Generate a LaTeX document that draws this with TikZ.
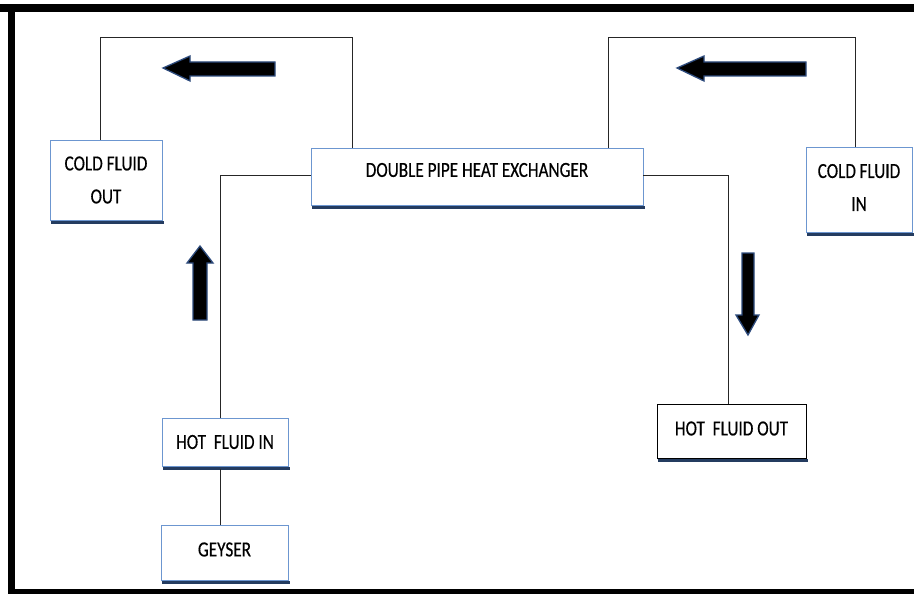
\documentclass[tikz,border=0pt]{standalone}
\usepackage{fontspec}
\newfontfamily\boxfont[FakeStretch=0.8,FakeBold=0.4]{Carlito}
\definecolor{boxblue}{RGB}{108,150,208}
\definecolor{shadownavy}{RGB}{36,60,96}
\definecolor{arrowedge}{RGB}{45,75,125}
\tikzset{
  box/.style={draw=boxblue, line width=0.9pt, fill=white, rectangle, inner sep=0pt},
  blackbox/.style={box, draw=black},
  txt/.style={font=\boxfont\fontsize{21.5}{33}\selectfont, align=center, inner sep=0pt, text=black},
  pipe/.style={draw=black!85, line width=0.9pt},
  shadowline/.style={draw=shadownavy, line width=3.2pt},
  fatarrow/.style={fill=black, draw=arrowedge, line width=1.3pt, line join=miter},
}
\begin{document}
\begin{tikzpicture}[x=1pt,y=-1pt]
\useasboundingbox (0,0) rectangle (914,594);
% frame
\fill[black] (0,4) rectangle (914,12);
\fill[black] (8,4) rectangle (15,594);
\fill[black] (8,589) rectangle (914,594);

% coordinates for pipe corners
\coordinate (tl) at (352,37);
\coordinate (tr) at (608,37);

% boxes
\node[box, minimum width=112, minimum height=80] (cout) at (106,180) {};
\node[box, minimum width=332, minimum height=57] (dphe) at (477,176.5) {};
\node[box, minimum width=106, minimum height=85] (cin) at (859,189.5) {};
\node[box, minimum width=126, minimum height=48] (hin) at (225,442) {};
\node[box, minimum width=127, minimum height=55] (gey) at (224.5,552.5) {};
\node[blackbox, minimum width=149, minimum height=54] (hout) at (731.5,431) {};

% shadows
\foreach \n in {cout,dphe,cin,hin,gey,hout}{
  \draw[shadowline] ([xshift=1pt,yshift=-2.2pt]\n.south west) -- ([xshift=2pt,yshift=-2.2pt]\n.south east);
}

% texts
\node[txt] (tcout) at (cout.center) {COLD FLUID\\OUT};
\node[txt] (tdphe) at ([yshift=6.5pt]dphe.center) {DOUBLE PIPE HEAT EXCHANGER};
\node[txt] (tcin) at ([yshift=2pt]cin.center) {COLD\,FLUID\\IN};
\node[txt] (thin) at (hin.center) {HOT\ \ FLUID IN};
\node[txt] (tgey) at ([yshift=3pt]gey.center) {GEYSER};
\node[txt] (thout) at ([yshift=2.5pt]hout.center) {HOT\ \ FLUID OUT};

% pipes
\coordinate (coutTop) at ([xshift=-6pt]cout.north);
\coordinate (cinTop) at ([xshift=-4pt]cin.north);
\draw[pipe] (coutTop) |- (tl) -- (tl |- dphe.north);
\draw[pipe] (cinTop) |- (tr) -- (tr |- dphe.north);
\coordinate (hinTop) at ([xshift=-5pt]hin.north);
\coordinate (dpheL) at ([yshift=1.5pt]dphe.west);
\draw[pipe] (hinTop) |- (dpheL);
\coordinate (hinBot) at ([xshift=-5pt,yshift=-3pt]hin.south);
\coordinate (geyTop) at ([xshift=-4.5pt]gey.north);
\draw[pipe] (hinBot) -- (geyTop);
\coordinate (dpheR) at ([yshift=1.5pt]dphe.east);
\coordinate (houtTop) at ([xshift=-3.5pt]hout.north);
\draw[pipe] (dpheR) -| (houtTop);

% block arrows
\draw[fatarrow] (163,68) -- (190,56) -- (190,62) -- (275,62) -- (275,76) -- (190,76) -- (190,81) -- cycle;
\draw[fatarrow] (677,68) -- (704,56) -- (704,62) -- (806,62) -- (806,76) -- (704,76) -- (704,81) -- cycle;
\draw[fatarrow] (200,246) -- (213,263) -- (207,263) -- (207,320) -- (193,320) -- (193,263) -- (187,263) -- cycle;
\draw[fatarrow] (748,335) -- (759,315) -- (754,315) -- (754,253) -- (742,253) -- (742,315) -- (736,315) -- cycle;
\end{tikzpicture}
\end{document}
